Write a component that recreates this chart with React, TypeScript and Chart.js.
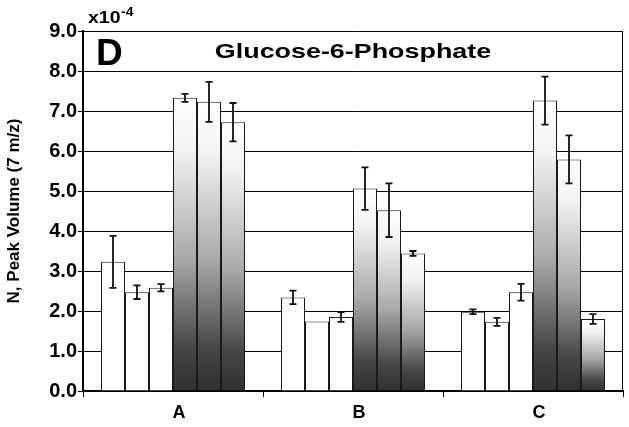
import React, { useEffect, useRef } from "react";
import { Chart, registerables } from "chart.js";

Chart.register(...registerables);

const categories = ["A", "B", "C"];
const yTickLabels = ["0.0", "1.0", "2.0", "3.0", "4.0", "5.0", "6.0", "7.0", "8.0", "9.0"];

const series1 = [3.23, 2.34, 1.98];
const series2 = [2.47, 1.74, 1.73];
const series3 = [2.58, 1.85, 2.47];
const series4 = [7.33, 5.06, 7.26];
const series5 = [7.23, 4.52, 5.79];
const series6 = [6.72, 3.44, 1.8];

const err1 = [0.65, 0.17, 0.06];
const err2 = [0.17, 0, 0.1];
const err3 = [0.09, 0.12, 0.21];
const err4 = [0.1, 0.53, 0.6];
const err5 = [0.5, 0.67, 0.6];
const err6 = [0.48, 0.06, 0.12];

const allSeries = [series1, series2, series3, series4, series5, series6];
const allErrors = [err1, err2, err3, err4, err5, err6];
const shaded = [false, false, false, true, true, true];

const FONT = "'Liberation Sans', Arial, Helvetica, sans-serif";

const gradientFill = (ctx: any) => {
  const chart = ctx.chart;
  const y = chart.scales && chart.scales.y;
  if (!y || !chart.chartArea || typeof ctx.raw !== "number") return "#888888";
  const top = y.getPixelForValue(ctx.raw);
  const bot = y.getPixelForValue(0);
  if (!isFinite(top) || !isFinite(bot) || bot - top < 1) return "#888888";
  const g = chart.ctx.createLinearGradient(0, top, 0, bot);
  g.addColorStop(0, "#ffffff");
  g.addColorStop(0.18, "#f2f2f2");
  g.addColorStop(0.55, "#a8a8a8");
  g.addColorStop(0.85, "#474747");
  g.addColorStop(1, "#303030");
  return g;
};

const errorBarPlugin = {
  id: "errorBars",
  afterDatasetsDraw(chart: any) {
    const c = chart.ctx;
    const y = chart.scales.y;
    c.save();
    c.strokeStyle = "#111111";
    c.lineWidth = 1.8;
    chart.data.datasets.forEach((ds: any, i: number) => {
      const meta = chart.getDatasetMeta(i);
      const errs = allErrors[i];
      meta.data.forEach((el: any, j: number) => {
        const e = errs[j];
        const v = ds.data[j];
        if (!e) return;
        const x = el.x;
        const yt = y.getPixelForValue(v + e);
        const yb = y.getPixelForValue(v - e);
        c.beginPath();
        c.moveTo(x, yt);
        c.lineTo(x, yb);
        c.moveTo(x - 3.5, yt);
        c.lineTo(x + 3.5, yt);
        c.moveTo(x - 3.5, yb);
        c.lineTo(x + 3.5, yb);
        c.stroke();
      });
    });
    c.restore();
  },
};

const stretchText = (c: any, text: string, x: number, y: number, sx: number, align: string) => {
  c.save();
  const w = c.measureText(text).width * sx;
  let left = x;
  if (align === "center") left = x - w / 2;
  c.translate(left, y);
  c.scale(sx, 1);
  c.textAlign = "left";
  c.fillText(text, 0, 0);
  c.restore();
  return w;
};

const decorPlugin = {
  id: "decor",
  afterDraw(chart: any) {
    const c = chart.ctx;
    const a = chart.chartArea;
    c.save();
    // right border
    c.strokeStyle = "#000000";
    c.lineWidth = 1;
    c.beginPath();
    c.moveTo(a.right - 0.5, a.top);
    c.lineTo(a.right - 0.5, a.bottom);
    c.stroke();

    c.fillStyle = "#000000";
    c.textBaseline = "alphabetic";
    // panel letter
    c.font = `bold 37px ${FONT}`;
    stretchText(c, "D", a.left + 13, a.top + 34, 1.0, "left");
    // title
    c.font = `bold 21px ${FONT}`;
    stretchText(c, "Glucose-6-Phosphate", (a.left + a.right) / 2, a.top + 27, 1.28, "center");
    // exponent
    c.font = `bold 16px ${FONT}`;
    const w = stretchText(c, "x10", a.left + 5, a.top - 8, 1.22, "left");
    c.font = `bold 12px ${FONT}`;
    stretchText(c, "-4", a.left + 5 + w + 0.5, a.top - 15, 1.15, "left");
    c.restore();
  },
};

export default function App() {
  const ref = useRef<HTMLCanvasElement | null>(null);

  useEffect(() => {
    document.body.style.margin = "0";
    const canvas = ref.current;
    if (!canvas) return;
    const chart = new Chart(canvas, {
      type: "bar",
      data: {
        labels: categories,
        datasets: allSeries.map((s, i) => ({
          label: `Series ${i + 1}`,
          data: s,
          backgroundColor: shaded[i] ? gradientFill : "#ffffff",
          borderColor: "#1a1a1a",
          borderWidth: 1,
          categoryPercentage: 0.8,
          barPercentage: 1.0,
        })),
      },
      options: {
        animation: false,
        responsive: false,
        maintainAspectRatio: false,
        layout: { padding: { top: 31, right: 6, bottom: 0, left: 0 } },
        plugins: {
          legend: { display: false },
          tooltip: { enabled: false },
          title: { display: false },
        },
        scales: {
          x: {
            grid: {
              display: true,
              drawOnChartArea: false,
              drawTicks: true,
              tickLength: 6,
              color: "#000000",
              offset: true,
            },
            border: { display: true, color: "#000000", width: 2 },
            ticks: {
              color: "#000000",
              font: { family: FONT, size: 18, weight: "bold" },
              padding: 5,
              labelOffset: 6,
            },
            afterFit: (scale: any) => {
              scale.height = 36;
            },
          },
          y: {
            min: 0,
            max: 9,
            grid: {
              color: "#000000",
              lineWidth: 1,
              drawTicks: true,
              tickLength: 5,
            },
            border: { display: true, color: "#000000", width: 2 },
            ticks: {
              stepSize: 1,
              color: "#000000",
              font: { family: FONT, size: 20, weight: "bold" },
              padding: 1,
              callback: (_v: any, i: number) => yTickLabels[i],
            },
            title: {
              display: true,
              text: "N, Peak Volume (7 m/z)",
              color: "#000000",
              font: { family: FONT, size: 17, weight: "bold" },
              padding: { top: 4, bottom: 0 },
            },
            afterFit: (scale: any) => {
              scale.width = 83;
            },
          },
        },
      },
      plugins: [errorBarPlugin, decorPlugin],
    } as any);
    return () => chart.destroy();
  }, []);

  return (
    <div style={{ width: 629, height: 427, background: "#ffffff" }}>
      <canvas ref={ref} width={629} height={427} style={{ display: "block" }} />
    </div>
  );
}
